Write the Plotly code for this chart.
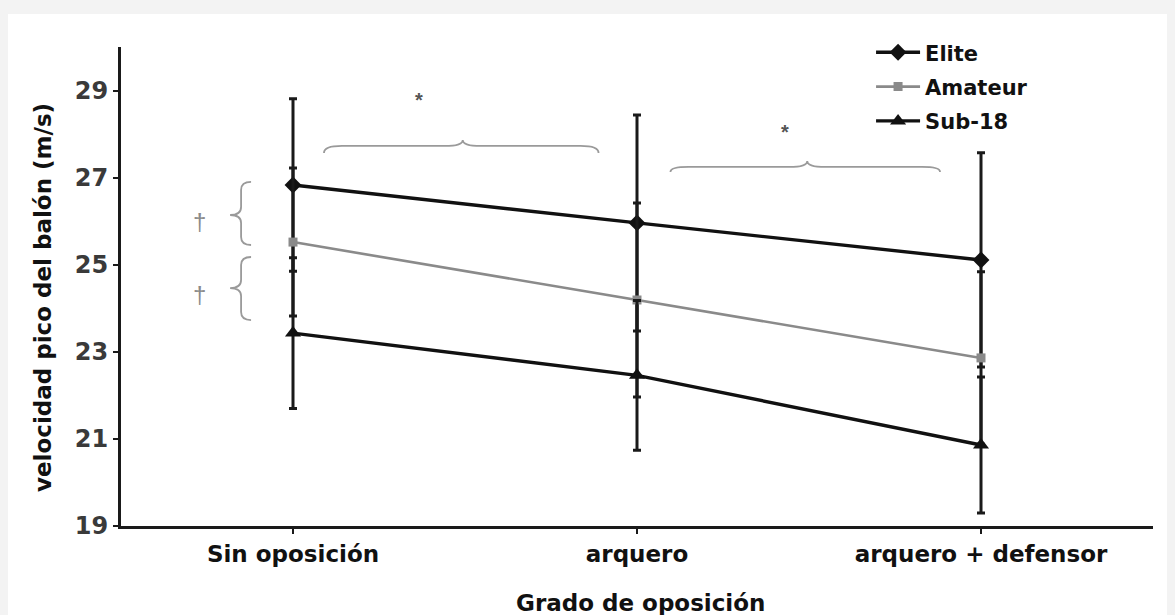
import plotly.graph_objects as go

categories = ["Sin oposición", "arquero", "arquero + defensor"]
series_names = ["Elite", "Amateur", "Sub-18"]
elite = [26.83, 25.96, 25.11]
elite_err = [1.98, 2.48, 2.46]
amateur = [25.52, 24.19, 22.86]
amateur_err = [1.7, 2.23, 1.98]
sub18 = [23.43, 22.46, 20.86]
sub18_err = [1.73, 1.72, 1.56]
y_ticks = [19, 21, 23, 25, 27, 29]

xpos = list(range(len(categories)))

FONT = "DejaVu Sans"

# page-pixel -> data helpers (used only for the brace / symbol annotations)
def px2x(px):
    return (px - 292) / 344.5

def px2y(py):
    return 19 + (525.7 - py) / 43.5

def hbrace(x0, x1, xt, yend, ym, yt, d=18):
    return (f"M {px2x(x0)},{px2y(yend)} Q {px2x(x0)},{px2y(ym)} {px2x(x0+d)},{px2y(ym)} "
            f"L {px2x(xt-d)},{px2y(ym)} Q {px2x(xt)},{px2y(ym)} {px2x(xt)},{px2y(yt)} "
            f"Q {px2x(xt)},{px2y(ym)} {px2x(xt+d)},{px2y(ym)} "
            f"L {px2x(x1-d)},{px2y(ym)} Q {px2x(x1)},{px2y(ym)} {px2x(x1)},{px2y(yend)}")

def vbrace(y0, y1, yt, xend, xm, xt, d=8):
    return (f"M {px2x(xend)},{px2y(y0)} Q {px2x(xm)},{px2y(y0)} {px2x(xm)},{px2y(y0+d)} "
            f"L {px2x(xm)},{px2y(yt-d)} Q {px2x(xm)},{px2y(yt)} {px2x(xt)},{px2y(yt)} "
            f"Q {px2x(xm)},{px2y(yt)} {px2x(xm)},{px2y(yt+d)} "
            f"L {px2x(xm)},{px2y(y1-d)} Q {px2x(xm)},{px2y(y1)} {px2x(xend)},{px2y(y1)}")

fig = go.Figure()

styles = [
    dict(name=series_names[0], y=elite, err=elite_err, color="#111111", width=3.4,
         symbol="diamond", size=13),
    dict(name=series_names[1], y=amateur, err=amateur_err, color="#8a8a8a", width=2.6,
         symbol="square", size=9),
    dict(name=series_names[2], y=sub18, err=sub18_err, color="#111111", width=3.4,
         symbol="triangle-up", size=14),
]

for i, s in enumerate(styles):
    fig.add_trace(go.Scatter(
        x=xpos, y=s["y"], name=s["name"], mode="lines+markers",
        legendgroup=f"g{i}",
        line=dict(color=s["color"], width=s["width"]),
        marker=dict(symbol=s["symbol"], size=s["size"], color=s["color"]),
        error_y=dict(type="data", array=s["err"], visible=True, color="#1a1a1a",
                     thickness=3, width=4),
    ))

shapes = [
    dict(type="rect", xref="paper", yref="paper", x0=-0.3, x1=1.1, y0=-0.3, y1=1.0689,
         fillcolor="white", line=dict(width=0), layer="below"),
]
brace_line = dict(color="#9a9a9a", width=1.8)
shapes.append(dict(type="path", path=hbrace(323, 598, 462, 153, 146, 140), line=brace_line))
shapes.append(dict(type="path", path=hbrace(670, 940, 807, 172, 167, 161), line=brace_line))
shapes.append(dict(type="path", path=vbrace(182, 245, 215, 250, 240, 229), line=brace_line))
shapes.append(dict(type="path", path=vbrace(257, 320, 288, 250, 240, 229), line=brace_line))

annotations = []
for (px, py) in [(198, 222), (198, 294)]:
    annotations.append(dict(x=px2x(px), y=px2y(py), text="†", showarrow=False,
                            font=dict(size=24, color="#8a8a8a", family="Liberation Sans")))
for (px, py) in [(418, 100), (785, 132)]:
    annotations.append(dict(x=px2x(px), y=px2y(py), text="*", showarrow=False,
                            font=dict(size=20, color="#555555", family="Liberation Sans",
                                      weight="bold")))
# axis titles
annotations.append(dict(xref="paper", yref="paper", x=-0.0756, y=0.478,
                        text="velocidad pico del balón (m/s)", textangle=-90,
                        showarrow=False, xanchor="center", yanchor="middle",
                        font=dict(size=23, color="#111111", family=FONT, weight="bold")))
annotations.append(dict(xref="paper", yref="paper", x=0.503, y=-0.1608,
                        text="Grado de oposición", showarrow=False,
                        xanchor="center", yanchor="middle",
                        font=dict(size=23, color="#111111", family=FONT, weight="bold")))

fig.update_layout(
    width=1175, height=615,
    paper_bgcolor="#f3f3f3", plot_bgcolor="white",
    margin=dict(l=113, r=30, t=39, b=97),
    font=dict(family=FONT, color="#111111"),
    shapes=shapes, annotations=annotations,
    showlegend=True,
    legend=dict(x=0.7268, y=1.031, xanchor="left", yanchor="top", itemwidth=44,
                bgcolor="rgba(0,0,0,0)", tracegroupgap=4,
                font=dict(size=21, color="#111111", family=FONT, weight="bold")),
    xaxis=dict(range=[-0.5, 2.5], tickvals=xpos, ticktext=categories, automargin=False,
               showgrid=False, zeroline=False, showline=True, linewidth=3, linecolor="#1a1a1a",
               ticks="outside", ticklen=5, tickwidth=2, tickcolor="#1a1a1a",
               tickfont=dict(size=23, color="#111111", family=FONT, weight="bold")),
    yaxis=dict(range=[19, 30], tickvals=y_ticks, showgrid=False, zeroline=False,
               automargin=False,
               showline=True, linewidth=3, linecolor="#1a1a1a",
               ticks="outside", ticklen=5, tickwidth=2, tickcolor="#1a1a1a",
               tickfont=dict(size=24, color="#3a3a3a", family=FONT, weight="bold")),
)

fig.write_html("out.html", post_script="document.body.style.background='#f3f3f3';")
